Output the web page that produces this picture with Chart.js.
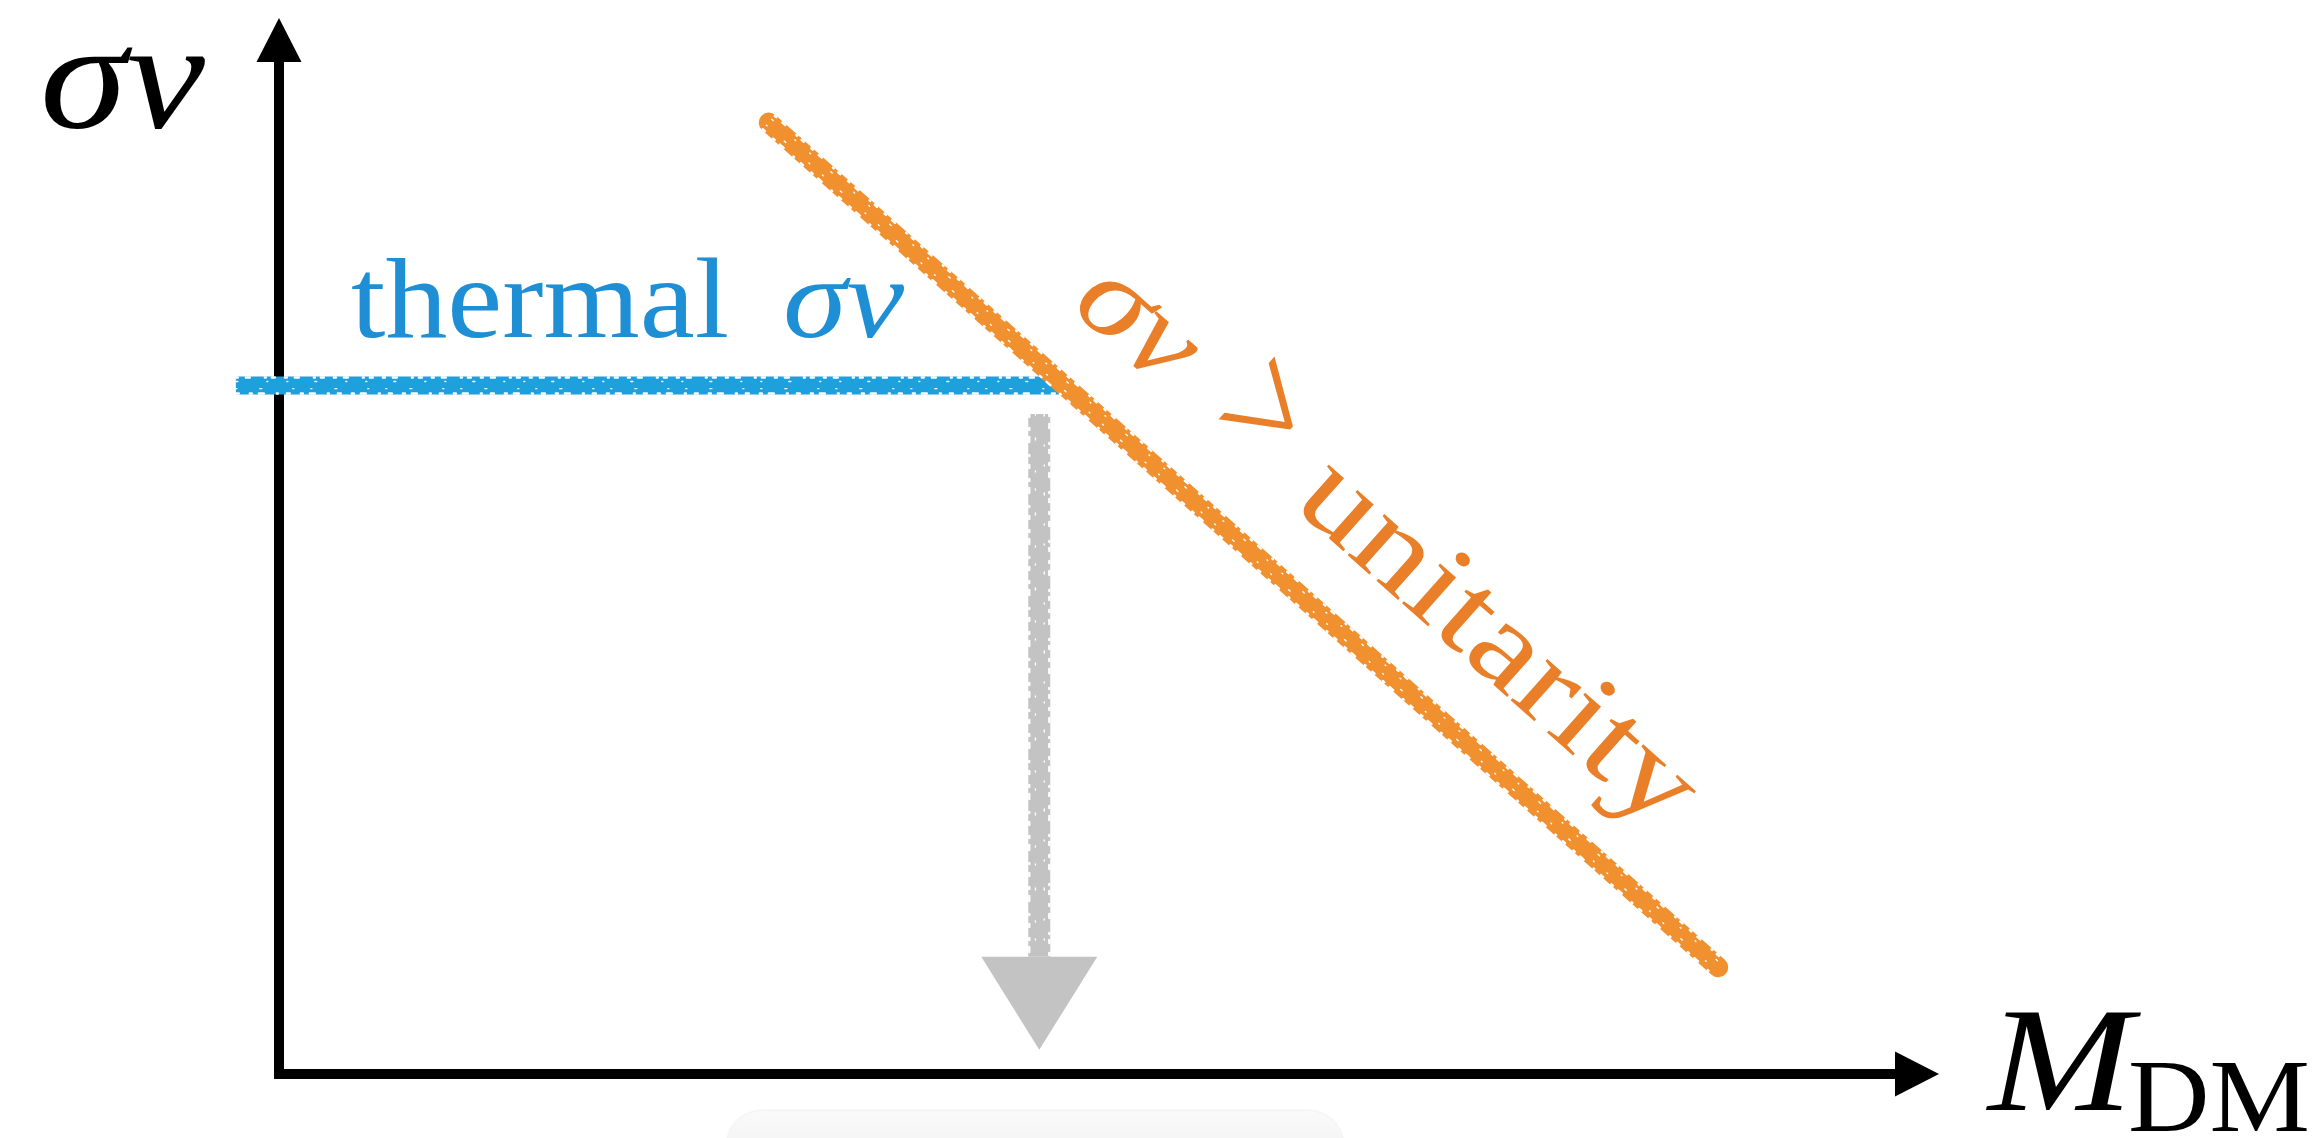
<!DOCTYPE html>
<html>
<head>
<meta charset="utf-8">
<script src="https://cdn.jsdelivr.net/npm/chart.js@4.4.1/dist/chart.umd.min.js"></script>
<style>
  html, body { margin: 0; padding: 0; background: #fff; overflow: hidden; }
  #wrap { position: relative; width: 2321px; height: 1138px; }
  #chart { position: absolute; left: 0; top: 0; }
  .tray {
    position: absolute; left: 727px; top: 1111px; width: 616px; height: 70px;
    border-radius: 44px;
    background: linear-gradient(#fafafa, #eeeeee);
    box-shadow: 0 0 3px rgba(0, 0, 0, 0.15);
  }
</style>
</head>
<body>
<div id="wrap">
  <canvas id="chart" width="2321" height="1138"></canvas>
  <div class="tray"></div>
</div>
<script>
"use strict"

// axes (arbitrary units): sigma v upwards, M_DM to the right
const axisCorner = [{ x: 0, y: 10 }, { x: 0, y: 0 }, { x: 10, y: 0 }];

// thermal relic cross section: flat line
const thermalMass = [-0.26, 4.72];
const thermalSigmaV = [6.52, 6.52];

// unitarity bound, falling with mass
const unitarityMass = [2.95, 8.67];
const unitaritySigmaV = [9.01, 1.01];

// arrow down to the mass axis
const boundMass = [4.58, 4.58];
const boundSigmaV = [6.25, 0.23];

const toPoints = (xs, ys) => xs.map((x, i) => ({ x: x, y: ys[i] }));

const SERIF = '"Liberation Serif", "Times New Roman", serif';

// triangle head at the end of a line, plus the area beyond its base where the line is hidden
function headPath(tip, prev, len, width, lw) {
    const dx = tip.x - prev.x, dy = tip.y - prev.y;
    const d = Math.hypot(dx, dy) || 1;
    const ux = dx / d, uy = dy / d;
    const bx = tip.x - ux * len, by = tip.y - uy * len;
    const nx = -uy * width / 2, ny = ux * width / 2;
    const reach = len + lw;
    const tri = [[tip.x, tip.y], [bx + nx, by + ny], [bx - nx, by - ny]];
    const mask = [[bx + nx, by + ny], [bx + nx + ux * reach, by + ny + uy * reach],
                  [bx - nx + ux * reach, by - ny + uy * reach], [bx - nx, by - ny]];
    return { tri: tri, mask: mask };
}

function heads(meta, ds) {
    const pts = meta.data;
    const out = [];
    if (!ds.arrowHead || pts.length < 2) return out;
    const a = ds.arrowHead;
    const lw = ds.borderWidth;
    if (a.end) out.push(headPath(pts[pts.length - 1], pts[pts.length - 2], a.length, a.width, lw));
    if (a.start) out.push(headPath(pts[0], pts[1], a.length, a.width, lw));
    return out;
}

function polygon(ctx, p) {
    ctx.moveTo(p[0][0], p[0][1]);
    for (let i = 1; i < p.length; i++) ctx.lineTo(p[i][0], p[i][1]);
    ctx.closePath();
}

// crayon look: nibble the edges of the thick strokes with short white dashes
const chalk = {
    id: 'chalk',
    afterDatasetDraw(chart, args) {
        const ds = chart.data.datasets[args.index];
        if (!ds.chalk) return;
        const pts = args.meta.data;
        const ctx = chart.ctx;
        const a = pts[0], b = pts[pts.length - 1];
        const d = Math.hypot(b.x - a.x, b.y - a.y);
        const nx = -(b.y - a.y) / d, ny = (b.x - a.x) / d;
        const half = ds.borderWidth / 2;
        ctx.save();
        ctx.strokeStyle = '#ffffff';
        ctx.lineCap = 'round';
        [[half - 1, [3, 11, 2, 7, 5, 13, 1, 9], 2.4], [-(half - 1), [2, 8, 4, 15, 1, 6, 3, 10], 2.4],
         [half * 0.35, [1, 23, 2, 31, 1, 17], 1.4], [-half * 0.45, [2, 29, 1, 19, 1, 27], 1.4]].forEach(e => {
            ctx.lineWidth = e[2];
            ctx.setLineDash(e[1]);
            ctx.beginPath();
            ctx.moveTo(a.x + nx * e[0], a.y + ny * e[0]);
            ctx.lineTo(b.x + nx * e[0], b.y + ny * e[0]);
            ctx.stroke();
        });
        ctx.restore();
    }
};

const arrowHeads = {
    id: 'arrowHeads',
    beforeDatasetDraw(chart, args) {
        const ds = chart.data.datasets[args.index];
        const hs = heads(args.meta, ds);
        if (!hs.length) return;
        const ctx = chart.ctx;
        ctx.save();
        ctx.beginPath();
        ctx.rect(0, 0, chart.width, chart.height);
        hs.forEach(h => polygon(ctx, h.mask));
        ctx.clip('evenodd');
    },
    afterDatasetDraw(chart, args) {
        const ds = chart.data.datasets[args.index];
        const hs = heads(args.meta, ds);
        if (!hs.length) return;
        const ctx = chart.ctx;
        ctx.restore();
        ctx.save();
        ctx.fillStyle = ds.borderColor;
        hs.forEach(h => {
            ctx.beginPath();
            polygon(ctx, h.tri);
            ctx.fill();
        });
        ctx.restore();
    }
};

// text annotations placed in data units, optionally turned along a dataset
const labels = {
    id: 'labels',
    afterDraw(chart, args, opts) {
        const ctx = chart.ctx;
        const sx = chart.scales.x, sy = chart.scales.y;
        opts.items.forEach(item => {
            const px = sx.getPixelForValue(item.x);
            const py = sy.getPixelForValue(item.y);
            let angle = 0;
            if (item.along !== undefined) {
                const pts = chart.getDatasetMeta(item.along).data;
                const p0 = pts[0], p1 = pts[pts.length - 1];
                angle = Math.atan2(p1.y - p0.y, p1.x - p0.x);
            }
            ctx.save();
            ctx.translate(px, py);
            ctx.rotate(angle);
            ctx.fillStyle = item.color;
            ctx.textBaseline = 'alphabetic';
            ctx.textAlign = 'left';
            let cursor = 0;
            item.parts.forEach(p => {
                ctx.font = (p.italic ? 'italic ' : '') + item.size + 'px ' + SERIF;
                const natural = ctx.measureText(p.text).width;
                const k = p.width / natural;
                const ky = p.tall || 1;
                ctx.save();
                ctx.translate(cursor, 0);
                ctx.scale(k, ky);
                ctx.fillText(p.text, 0, 0);
                ctx.restore();
                cursor += p.width + (p.gap || 0);
            });
            ctx.restore();
        });
    }
};

const config = {
    type: 'scatter',
    data: {
        datasets: [
            {
                label: 'unitarity',
                data: toPoints(unitarityMass, unitaritySigmaV),
                showLine: true,
                borderColor: '#f0902f',
                borderWidth: 20,
                borderCapStyle: 'round',
                pointRadius: 0,
                chalk: true,
                clip: false
            },
            {
                label: 'thermal',
                data: toPoints(thermalMass, thermalSigmaV),
                showLine: true,
                borderColor: '#1ea0dc',
                borderWidth: 18,
                pointRadius: 0,
                chalk: true,
                clip: false
            },
            {
                label: 'bound',
                data: toPoints(boundMass, boundSigmaV),
                showLine: true,
                borderColor: '#c3c3c3',
                borderWidth: 22,
                pointRadius: 0,
                chalk: true,
                arrowHead: { end: true, length: 93, width: 116 },
                clip: false
            },
            {
                label: 'axes',
                data: axisCorner,
                showLine: true,
                borderColor: '#000000',
                borderWidth: 10,
                borderJoinStyle: 'miter',
                pointRadius: 0,
                arrowHead: { start: true, end: true, length: 44, width: 45 },
                clip: false
            }
        ]
    },
    options: {
        responsive: false,
        devicePixelRatio: 1,
        animation: false,
        events: [],
        layout: { padding: { left: 279, right: 382, top: 18, bottom: 64 } },
        scales: {
            x: { type: 'linear', min: 0, max: 10, display: false },
            y: { type: 'linear', min: 0, max: 10, display: false }
        },
        plugins: {
            legend: { display: false },
            tooltip: { enabled: false },
            labels: {
                items: [
                    { x: -1.44, y: 8.97, size: 155, color: '#000',
                      parts: [{ text: 'σv', italic: true, width: 165 }] },
                    { x: 10.295, y: -0.341, size: 148, color: '#000',
                      parts: [{ text: 'M', italic: true, width: 145 }] },
                    { x: 11.138, y: -0.540, size: 104, color: '#000',
                      parts: [{ text: 'DM', italic: false, width: 182 }] },
                    { x: 0.434, y: 6.979, size: 114, color: '#1e8fd4',
                      parts: [{ text: 'thermal', italic: false, width: 378, gap: 54 },
                              { text: 'σv', italic: true, width: 121 }] },
                    { x: 4.758, y: 7.263, size: 120, color: '#e97f28', along: 0,
                      parts: [{ text: 'σv', italic: true, width: 125, gap: 55 },
                              { text: '>', italic: false, width: 73, gap: 44, tall: 1.45 },
                              { text: 'unitarity', italic: false, width: 494 }] }
                ]
            }
        }
    },
    plugins: [chalk, arrowHeads, labels]
};

new Chart(document.getElementById('chart'), config);
</script>
</body>
</html>
